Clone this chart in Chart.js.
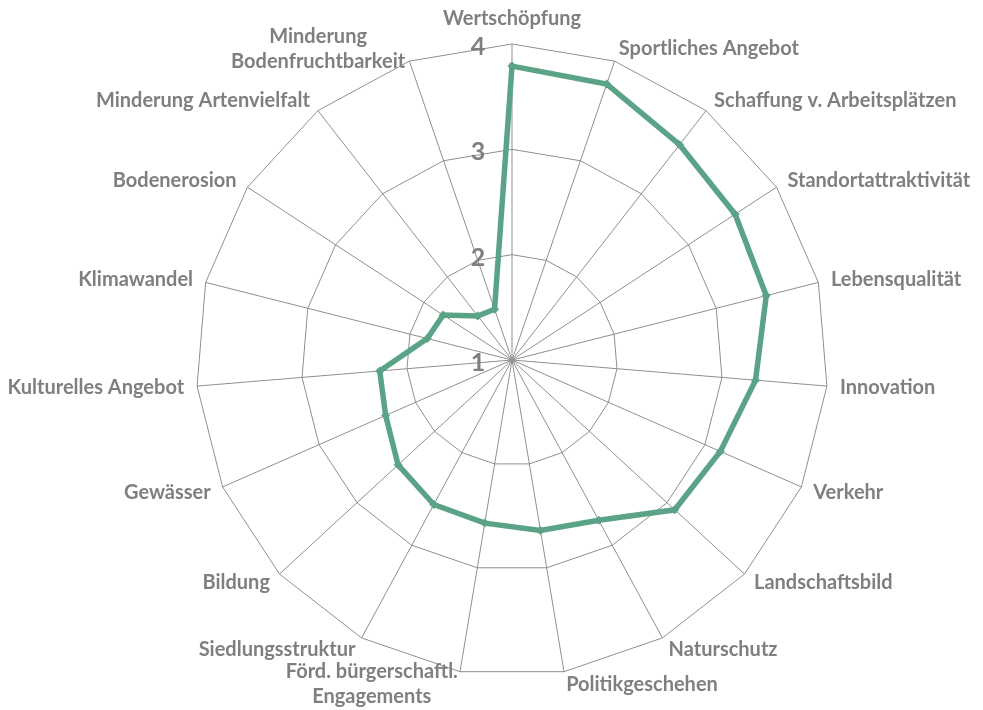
<!DOCTYPE html>
<html>
<head>
<meta charset="utf-8">
<script src="https://cdn.jsdelivr.net/npm/chart.js@4"></script>
<style>
  html, body { margin: 0; padding: 0; background: #fff; }
  #wrap { width: 983px; height: 710px; }
</style>
</head>
<body>
<div id="wrap"><canvas id="radar" width="983" height="710"></canvas></div>
<script>
const categories = [
  "Wertschöpfung",
  "Sportliches Angebot",
  "Schaffung v. Arbeitsplätzen",
  "Standortattraktivität",
  "Lebensqualität",
  "Innovation",
  "Verkehr",
  "Landschaftsbild",
  "Naturschutz",
  "Politikgeschehen",
  ["Förd. bürgerschaftl.", "Engagements"],
  "Siedlungsstruktur",
  "Bildung",
  "Gewässer",
  "Kulturelles Angebot",
  "Klimawandel",
  "Bodenerosion",
  "Minderung Artenvielfalt",
  ["Minderung", "Bodenfruchtbarkeit"],
];

const ratings = [3.79, 3.77, 3.59, 3.53, 3.49, 3.32, 3.16, 3.10, 2.73, 2.64,
                 2.57, 2.56, 2.47, 2.31, 2.26, 1.83, 1.78, 1.53, 1.51];

const tickValues = [1, 2, 3, 4];

const GRAY = "#7f7f7f";
const GREEN = "#5ba386";
const LINE_H = 25;

// tick numbers sit left of the vertical axis, so draw them ourselves
const tickLabels = {
  id: "tickLabels",
  afterDraw(c) {
    const s = c.scales.r;
    const ctx = c.ctx;
    ctx.save();
    ctx.font = "bold 25px Lato";
    ctx.fillStyle = GRAY;
    ctx.textAlign = "center";
    ctx.textBaseline = "middle";
    tickValues.forEach(v => {
      const d = s.getDistanceFromCenterForValue(v);
      ctx.fillText(String(v), s.xCenter - 34, s.yCenter - d + 3);
    });
    ctx.restore();
  }
};

// category labels placed the Excel way: vertically centred beside each spoke,
// multi-line labels centred inside their block
const spokeLabels = {
  id: "spokeLabels",
  afterDraw(c) {
    const s = c.scales.r;
    const ctx = c.ctx;
    ctx.save();
    ctx.font = "bold 20px Lato";
    ctx.fillStyle = GRAY;
    ctx.textAlign = "center";
    ctx.textBaseline = "middle";
    categories.forEach((lab, i) => {
      const lines = [].concat(lab);
      const p = s.getPointPosition(i, s.drawingArea + 13);
      const deg = (((p.angle + Math.PI / 2) * 180 / Math.PI) + 360) % 360;
      const w = Math.max(...lines.map(l => ctx.measureText(l).width));
      const h = lines.length * LINE_H;
      let left = deg < 180 ? p.x : p.x - w;
      let top = p.y - h / 2;
      if (deg < 1 || deg > 359) { left = p.x - w / 2; top = p.y - h; }
      lines.forEach((l, k) => ctx.fillText(l, left + w / 2, top + LINE_H * (k + 0.5)));
    });
    ctx.restore();
  }
};

new Chart(document.getElementById("radar"), {
  type: "radar",
  data: {
    labels: categories,
    datasets: [{
      data: ratings,
      borderColor: GREEN,
      backgroundColor: "transparent",
      borderWidth: 5.5,
      pointStyle: "rectRot",
      pointRadius: 4.5,
      pointBackgroundColor: GREEN,
      pointBorderColor: GREEN,
      pointBorderWidth: 0,
      tension: 0,
      fill: false,
    }],
  },
  options: {
    responsive: false,
    animation: false,
    layout: { padding: { top: 44, bottom: 34, left: 41, right: 0 } },
    plugins: { legend: { display: false }, tooltip: { enabled: false } },
    scales: {
      r: {
        min: 1,
        max: 4,
        ticks: { stepSize: 1, display: false },
        grid: { color: "#8f8f8f", lineWidth: 1 },
        angleLines: { color: "#8f8f8f", lineWidth: 1 },
        pointLabels: { display: false },
      },
    },
  },
  plugins: [tickLabels, spokeLabels],
});
</script>
</body>
</html>
